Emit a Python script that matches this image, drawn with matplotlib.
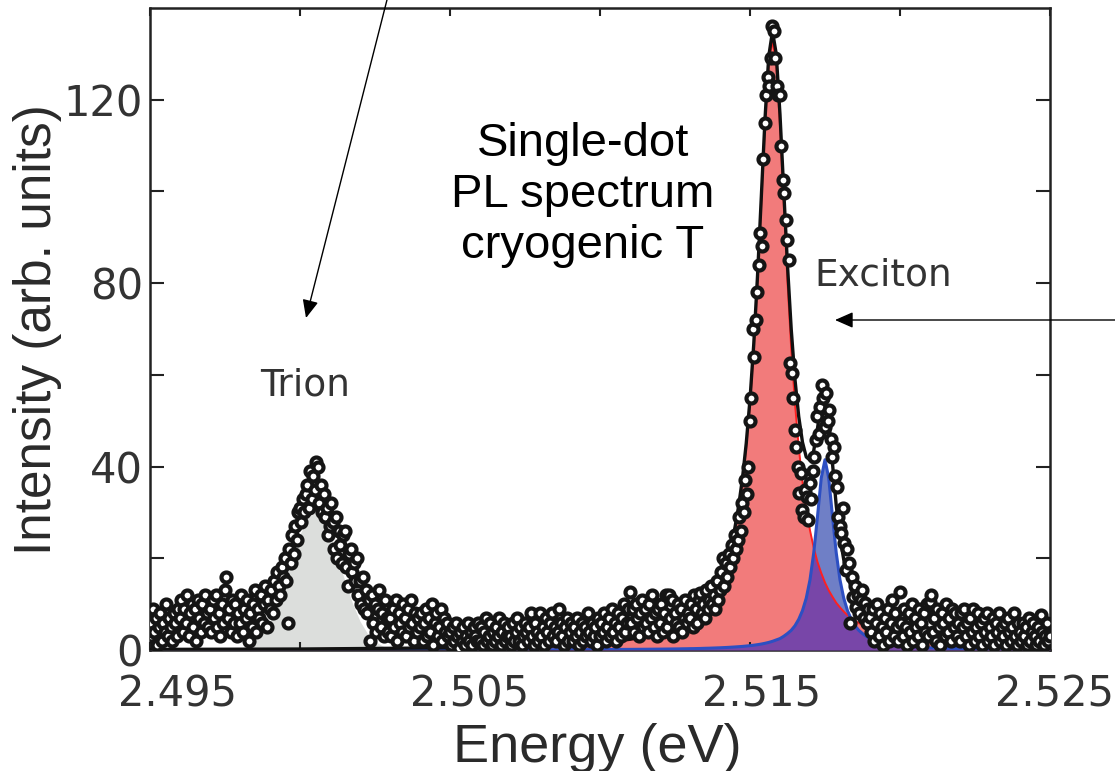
import numpy as np
import matplotlib
matplotlib.use("Agg")
import matplotlib.pyplot as plt
from matplotlib.ticker import FixedLocator
from matplotlib.transforms import ScaledTranslation

# ---------------- measured PL spectrum (one point every 0.05 meV) ----------------
intensity = [
    6, 3, 9, 4, 7, 1, 5, 8, 2, 6, 4, 10, 3, 7, 5, 2, 8, 6, 3, 9,
    7, 11, 4, 9, 6, 12, 3, 8, 10, 5, 9, 2, 11, 7, 4, 10, 6, 12, 8, 5,
    9, 4, 11, 7, 12, 5, 8, 3, 10, 6, 13, 16, 7, 9, 4, 11, 6, 10, 3, 8,
    6, 12, 4, 9, 7, 11, 2, 8, 5, 10, 13, 4, 9, 7, 12, 6, 10, 14, 5, 11,
    9, 13, 8, 15, 11, 17, 14, 12, 18, 16, 20, 15, 6, 22, 19, 25, 21, 27, 24, 30,
    31, 28, 33, 30, 34, 36, 31, 39, 33, 38, 35, 41, 40, 32, 36, 30, 34, 29, 31, 25,
    27, 32, 28, 22, 29, 20, 26, 23, 19, 25, 26, 18, 14, 21, 22, 17, 19, 15, 20, 12,
    15, 10, 16, 9, 13, 8, 11, 2, 12, 6, 10, 4, 9, 13, 5, 8, 3, 11, 7, 4,
    7, 3, 9, 5, 11, 2, 8, 6, 4, 10, 7, 3, 9, 5, 11, 6, 2, 8, 4, 7,
    5, 8, 2, 6, 9, 3, 7, 4, 10, 1, 6, 8, 3, 5, 9, 2, 7, 4, 6, 3,
    4, 1, 5, 2, 6, 3, 0.5, 4, 2, 5, 1, 3, 6, 2, 4, 1, 5, 3, 2, 6,
    2, 5, 1, 4, 7, 2, 3, 6, 1, 4, 2, 5, 3, 7, 1, 4, 6, 2, 3, 5,
    3, 1, 6, 2, 4, 7, 2, 5, 1, 3, 6, 4, 2, 5, 8, 3, 1, 6, 4, 2,
    8, 3, 5, 1, 7, 4, 2, 6, 8, 3, 5, 2, 4, 9, 6, 3, 1, 5, 7, 2,
    4, 6, 2, 5, 3, 7, 1, 4, 6, 2, 5, 3, 8, 4, 2, 6, 3, 5, 1, 7,
    3, 6, 4, 8, 2, 5, 7, 3, 9, 4, 6, 2, 8, 5, 3, 7, 10, 4, 6, 9,
    12.7, 6, 9, 4, 10, 7, 3, 8, 11, 5, 9, 6, 4, 10, 7, 12, 5, 8, 3, 9,
    6, 10, 4, 8, 12, 5, 12, 7, 11, 3, 8, 6, 10, 5, 9, 4, 7, 11, 6, 8,
    7, 10, 5, 12, 9, 6, 11, 12.4, 8, 10, 7, 13, 9, 11, 14, 10, 12, 9, 15, 11,
    13, 17, 20, 14, 19, 16, 21, 18, 23, 20, 25, 22, 24, 29, 26, 32, 30, 37, 34, 40,
    50, 55, 70, 64, 72, 78, 84, 91, 88, 107, 115, 121, 125, 123, 129, 136, 135, 129, 123, 121,
    121, 110, 102.5, 99.7, 93.8, 89.5, 85, 62.6, 60.4, 55, 48, 44.3, 40, 34.2, 38.6, 30.5, 29, 35, 33.4, 28.4,
    36.4, 33, 39, 42, 45.8, 51, 47, 53, 57.8, 55, 48.7, 56, 50, 52.4, 46, 42, 44.3, 38, 35.6, 29,
    27, 25.5, 31, 23.3, 17.5, 22, 19, 5.9, 16, 11.6, 14, 9.4, 12, 8, 11, 13, 7, 10.2, 6, 9,
    7.2, 4, 9, 2, 6, 10, 3, 8, 5, 1, 7, 4, 9, 2, 6, 11, 3, 8, 5, 2,
    12.7, 6, 3, 9, 5, 1, 8, 4, 10, 2, 7, 5, 3, 9, 6, 1, 8, 4, 10, 3,
    10.5, 12, 4, 7, 2, 9, 5, 1, 8, 6, 3, 10, 4, 7, 2, 9, 5, 8, 3, 6,
    2, 8, 5, 9, 3, 6, 1, 7, 4, 9, 2, 5, 8, 3, 6, 1, 7, 4, 8, 2,
    5, 3, 7, 1, 6, 4, 8, 2, 5, 3, 6, 1, 7, 4, 2, 5, 8, 3, 1, 6,
    4, 2, 6, 3, 5, 1, 7, 2, 4, 6, 3, 1, 5, 2, 7.6, 4, 1, 3, 6, 2,
    3,
]
energy = np.linspace(2.495, 2.525, len(intensity))

# ---------------- fitted components ----------------
fit_energy = np.concatenate([[2.495, 2.500, 2.505, 2.5075, 2.510, 2.511],
                             np.linspace(2.512, 2.521, 73),
                             [2.522, 2.5235, 2.525]])

# lower-energy exciton line (red)
exciton_red = np.array([
    0.12, 0.20, 0.44, 0.74, 1.5, 2.2,
    3.5, 3.7, 4.0, 4.3, 4.6, 5.0, 5.4, 5.9, 6.4, 7.0,
    7.6, 8.4, 9.3, 10.3, 11.6, 13.0, 14.7, 16.8, 19.2, 22.3,
    26.1, 30.8, 36.7, 44.2, 53.7, 65.6, 80.3, 97.2, 114.3, 127.8,
    133.0,
    127.8, 114.3, 97.2, 80.3, 65.6, 53.7, 44.2, 36.7, 30.8, 26.1,
    22.3, 19.2, 16.8, 14.7, 13.0, 11.6, 10.3, 9.3, 8.4, 7.6,
    7.0, 6.4, 5.9, 5.4, 5.0, 4.6, 4.3, 4.0, 3.7, 3.5,
    3.3, 3.1, 2.9, 2.75, 2.6, 2.45, 2.3, 2.2, 2.1, 2.0,
    1.9, 1.8,
    1.28, 0.84, 0.59,
])

# higher-energy exciton line (blue)
exciton_blue = np.array([
    0.012, 0.02, 0.039, 0.061, 0.108, 0.144,
    0.20, 0.21, 0.22, 0.23, 0.24, 0.25, 0.27, 0.28, 0.30, 0.31,
    0.33, 0.35, 0.38, 0.40, 0.43, 0.46, 0.49, 0.53, 0.57, 0.62,
    0.67, 0.73, 0.79, 0.87, 0.95, 1.05, 1.17, 1.3, 1.47, 1.66,
    1.9, 2.2, 2.5, 3.0, 3.6, 4.3, 5.3, 6.7, 8.6, 11.3,
    15.3, 21.2, 29.1, 37.5,
    41.5,
    37.5, 29.1, 21.2, 15.3, 11.3, 8.6, 6.7, 5.3, 4.3, 3.6,
    3.0, 2.5, 2.2, 1.9, 1.66, 1.47, 1.3, 1.17, 1.05, 0.95,
    0.87, 0.79, 0.73, 0.67, 0.62, 0.57, 0.53, 0.49,
    0.30, 0.168, 0.108,
])
exciton_total = exciton_red + exciton_blue

# trion line (grey)
trion_energy = np.linspace(2.497, 2.504, 29)
trion_fit = [0, 0, 0.05, 0.15, 0.4, 0.9, 1.9, 3.6, 6.3, 10.2, 15.0, 20.3, 25.2, 28.7,
             30.0,
             28.7, 25.2, 20.3, 15.0, 10.2, 6.3, 3.6, 1.9, 0.9, 0.4, 0.15, 0.05, 0, 0]

x_ticks = [2.495, 2.505, 2.515, 2.525]
x_ticklabels = ['2.495', '2.505', '2.515', '2.525']
x_minor = [2.500, 2.510, 2.520]
y_ticks = [0, 40, 80, 120]
y_minor = [20, 60, 100]

arial = ['Liberation Sans', 'DejaVu Sans']

fig = plt.figure(figsize=(11.15, 7.71), dpi=100)
ax = fig.add_axes([0.1345, 0.1569, 0.8072, 0.8327])

# fills
ax.fill_between(trion_energy, trion_fit, color='#dcdedc', lw=0, zorder=1)
ax.fill_between(fit_energy, exciton_red, color='#f27b7b', lw=0, zorder=1)
ax.fill_between(fit_energy, exciton_blue, color='#6f7fc6', lw=0, zorder=2)
ax.fill_between(fit_energy, np.minimum(exciton_red, exciton_blue), color='#7846a8', lw=0, zorder=3)

# fit curves
ax.plot(fit_energy, exciton_red, color='#ff2020', lw=1.4, zorder=4)
ax.plot(fit_energy, exciton_blue, color='#2d4fc2', lw=2.2, zorder=4)
ax.plot(fit_energy, exciton_total, color='#111111', lw=2.4, zorder=5)

# data
ax.plot(energy, intensity, 'o', ms=7.2, mfc='white', mec='#151515', mew=3.0, zorder=6)

ax.set_xlim(2.495, 2.525)
ax.set_ylim(0, 140)
ax.xaxis.set_major_locator(FixedLocator(x_ticks))
ax.xaxis.set_minor_locator(FixedLocator(x_minor))
ax.set_xticklabels(x_ticklabels)
ax.yaxis.set_major_locator(FixedLocator(y_ticks))
ax.yaxis.set_minor_locator(FixedLocator(y_minor))

ax.tick_params(which='both', direction='in', top=True, right=True, color='#222222')
ax.tick_params(axis='x', which='both', length=6, width=1.5, pad=17, labelsize=30, labelcolor='#333333')
ax.tick_params(axis='y', which='both', length=10, width=1.5, pad=5, labelsize=30, labelcolor='#333333')
for s in ax.spines.values():
    s.set_linewidth(1.8)
    s.set_color('#222222')

# x tick labels sit slightly right of their ticks
for lab, shift in zip(ax.get_xticklabels(), [28, 20, 12, 5]):
    lab.set_transform(lab.get_transform() + ScaledTranslation(shift / 100, 0, fig.dpi_scale_trans))

# axis titles
fig.text(0.034, 0.573, 'Intensity (arb. units)', rotation=90, fontsize=37, family=arial,
         color='#2a2a2a', ha='center', va='center')
fig.text(0.5354, 0.0117, 'Energy (eV)', fontsize=39, family=arial, color='#2a2a2a',
         ha='center', va='baseline')

# labels
fig.text(0.5229, 0.747, 'Single-dot\nPL spectrum\ncryogenic T', fontsize=34, family=arial,
         color='black', ha='center', va='center', multialignment='center')
fig.text(305 / 1115, 1 - 385 / 771, 'Trion', fontsize=27, color='#333333', ha='center', va='center')
fig.text(883 / 1115, 1 - 275 / 771, 'Exciton', fontsize=27, color='#333333', ha='center', va='center')

# arrows
arrow = dict(arrowstyle='-|>,head_length=0.5,head_width=0.22', color='black', lw=1.0,
             mutation_scale=22, shrinkA=0, shrinkB=0)
fig.add_artist(plt.Annotation('', xy=(306, 453), xytext=(389.5, 781),
                              xycoords='figure pixels', textcoords='figure pixels', arrowprops=arrow))
fig.add_artist(plt.Annotation('', xy=(835, 451), xytext=(1125, 451),
                              xycoords='figure pixels', textcoords='figure pixels', arrowprops=arrow))

fig.savefig('out.png', dpi=100)
